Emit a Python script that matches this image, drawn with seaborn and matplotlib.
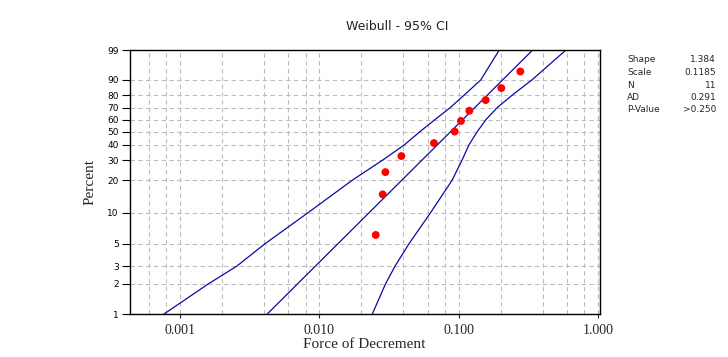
import numpy as np
import matplotlib
matplotlib.use("Agg")
import matplotlib.pyplot as plt
import seaborn as sns
from matplotlib.ticker import FixedLocator, FixedFormatter, NullFormatter

# 1. DATOS
fuerza = [0.0254, 0.0285, 0.0298, 0.0388, 0.0665, 0.0937, 0.1039, 0.1193, 0.1563, 0.2024, 0.2770]
porcentaje = [6.1, 14.9, 23.7, 32.5, 41.2, 50.0, 58.8, 67.5, 76.3, 85.1, 93.9]

pct_banda = [1, 2, 3, 5, 10, 20, 30, 40, 50, 60, 70, 80, 90, 99]
banda_izq = [0.000768, 0.001596, 0.002551, 0.004074, 0.008291, 0.01716, 0.02841,
             0.04087, 0.05278, 0.06764, 0.08667, 0.1092, 0.1442, 0.1957]
banda_der = [0.02401, 0.02985, 0.03492, 0.04401, 0.06280, 0.08958, 0.1057,
             0.1187, 0.1361, 0.1571, 0.1885, 0.2415, 0.3360, 0.5894]

pct_ajuste = [1, 99]
x_ajuste = [0.00423, 0.340]

y_ticks = [1, 2, 3, 5, 10, 20, 30, 40, 50, 60, 70, 80, 90, 99]
x_ticks = [0.001, 0.01, 0.1, 1.0]
x_tick_labels = ['0.001', '0.010', '0.100', '1.000']
x_grid = [0.0006, 0.0008, 0.002, 0.004, 0.006, 0.008, 0.02, 0.04, 0.06, 0.08,
          0.2, 0.4, 0.6, 0.8]

etiquetas_stats = ['Shape', 'Scale', 'N', 'AD', 'P-Value']
valores_stats = ['1.384', '0.1185', '11', '0.291', '>0.250']


# escala de probabilidad Weibull para el eje y
def weibull_fwd(p):
    p = np.clip(np.asarray(p, dtype=float), 1e-6, 100 - 1e-6) / 100.0
    return np.log(-np.log(1.0 - p))


def weibull_inv(w):
    return 100.0 * (1.0 - np.exp(-np.exp(np.asarray(w, dtype=float))))


# 2. FIGURA
sns.set_theme(style="ticks")
W, H = 728, 357
fig = plt.figure(figsize=(W / 100, H / 100), dpi=100)
ax = fig.add_axes([130 / W, (H - 314) / H, 470 / W, 264 / H])

ax.set_xscale('log')
ax.set_yscale('function', functions=(weibull_fwd, weibull_inv))
ax.set_xlim(0.0004377, 1.034)
ax.set_ylim(1, 99)

azul = '#0A0AA0'
sns.lineplot(x=banda_izq, y=pct_banda, ax=ax, color=azul, lw=0.9, sort=False, estimator=None)
sns.lineplot(x=banda_der, y=pct_banda, ax=ax, color=azul, lw=0.9, sort=False, estimator=None)
sns.lineplot(x=x_ajuste, y=pct_ajuste, ax=ax, color=azul, lw=0.9, sort=False, estimator=None)
sns.scatterplot(x=fuerza, y=porcentaje, ax=ax, color='#FF0000', s=32, edgecolor='none', zorder=4)

# ejes y rejilla
ax.yaxis.set_major_locator(FixedLocator(y_ticks))
ax.yaxis.set_major_formatter(FixedFormatter([str(t) for t in y_ticks]))
ax.yaxis.set_minor_locator(FixedLocator([]))
ax.xaxis.set_major_locator(FixedLocator(x_ticks))
ax.xaxis.set_major_formatter(FixedFormatter(x_tick_labels))
ax.xaxis.set_minor_locator(FixedLocator(x_grid))
ax.xaxis.set_minor_formatter(NullFormatter())

ax.tick_params(axis='y', which='major', length=6, width=0.8, pad=2, labelsize=6.5, colors='black')
ax.tick_params(axis='x', which='major', length=3, width=0.8, pad=4, labelsize=10)
ax.tick_params(axis='x', which='minor', length=0)
for lab in ax.get_xticklabels():
    lab.set_family('Liberation Serif')
for lab in ax.get_yticklabels():
    lab.set_family('DejaVu Sans')

grid_kw = dict(color='#BDBDBD', linestyle=(0, (4, 3)), linewidth=0.8)
ax.grid(True, axis='x', which='both', **grid_kw)
ax.grid(True, axis='y', which='major', **grid_kw)
ax.set_axisbelow(True)
for s in ax.spines.values():
    s.set_color('black')
    s.set_linewidth(1.0)
ax.set_xlabel('')
ax.set_ylabel('')

# textos
fig.text(397.5 / W, 1 - 27 / H, 'Weibull - 95% CI', ha='center', va='center',
         fontsize=9, family='DejaVu Sans', color='#222222')
fig.text(364 / W, 1 - 344 / H, 'Force of Decrement', ha='center', va='center',
         fontsize=11, family='Liberation Serif')
fig.text(90 / W, 1 - 182 / H, 'Percent', ha='center', va='center', rotation=90,
         fontsize=11, family='Liberation Serif')

filas_y = [60, 72.5, 85, 97.5, 110]
for etiqueta, valor, yy in zip(etiquetas_stats, valores_stats, filas_y):
    fig.text(627 / W, 1 - yy / H, etiqueta, ha='left', va='center', fontsize=6.5, family='DejaVu Sans')
    fig.text(716 / W, 1 - yy / H, valor, ha='right', va='center', fontsize=6.5, family='DejaVu Sans')

fig.savefig('out.png', dpi=100)
plt.close(fig)
